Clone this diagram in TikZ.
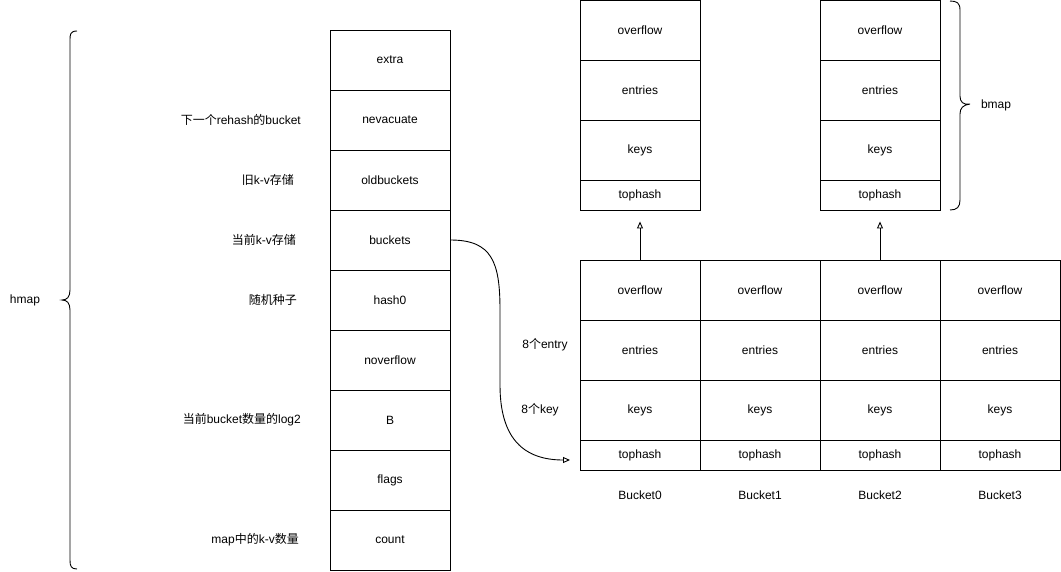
\documentclass[tikz,border=0pt]{standalone}
\usepackage{fontspec}
\setmainfont{Liberation Sans}
\newfontfamily\cjk{Noto Sans CJK SC}
\usetikzlibrary{arrows.meta,decorations.pathreplacing}
\begin{document}
\begin{tikzpicture}[x=1pt,y=-1pt,
  cell/.style={draw=black,line width=0.9pt,minimum width=120pt,minimum height=60pt,inner sep=0pt,font=\fontsize{12}{14}\selectfont},
  thin/.style={cell,minimum height=30pt},
  lbl/.style={font=\fontsize{12}{14}\selectfont,inner sep=0pt},
  arr/.style={line width=0.9pt,-{Triangle[open,length=7pt,width=6pt]}},
  brc/.style={line width=0.9pt}]
\useasboundingbox (0,0) rectangle (1061,571);
% hmap struct
\foreach \n/\t [count=\i from 0] in {extra/extra,nev/nevacuate,old/oldbuckets,bkt/buckets,hash/hash0,novf/noverflow,B/B,flags/flags,count/count}{
  \node[cell] (\n) at (390,{60+60*\i}) {\t};
}
% left labels (right aligned at x=300)
\node[lbl,anchor=east] (l1) at (301,120) {{\cjk 下一个}rehash{\cjk 的}bucket};
\node[lbl,anchor=east] (l2) at (294,180) {{\cjk 旧}k-v{\cjk 存储}};
\node[lbl,anchor=east] (l3) at (296,240) {{\cjk 当前}k-v{\cjk 存储}};
\node[lbl,anchor=east] (l4) at (297,300) {{\cjk 随机种子}};
\node[lbl,anchor=east] (l5) at (301,420) {{\cjk 当前}bucket{\cjk 数量的}log2};
\node[lbl,anchor=east] (l6) at (299,540) {map{\cjk 中的}k-v{\cjk 数量}};
% hmap brace
\draw[brc] (77,31) .. controls (70,31) and (70,35) .. (70,40) -- (70,290) .. controls (70,297) and (67,300) .. (62,300)
  .. controls (67,300) and (70,303) .. (70,310) -- (70,560) .. controls (70,566) and (71,569) .. (77,569);
\node[lbl] (hmap) at (25,300) {hmap};
% buckets
\foreach \k in {0,1,2,3}{
  \node[cell] (ov\k) at ({640+120*\k},290) {overflow};
  \node[cell] (en\k) at ({640+120*\k},350) {entries};
  \node[cell] (ke\k) at ({640+120*\k},410) {keys};
  \node[thin] (th\k) at ({640+120*\k},455) {tophash};
  \node[lbl] (bl\k) at ({640+120*\k},495) {Bucket\k};
}
% overflow buckets
\foreach \k/\x in {a/640,b/880}{
  \node[cell] (tov\k) at (\x,30) {overflow};
  \node[cell] (ten\k) at (\x,90) {entries};
  \node[cell] (tke\k) at (\x,150) {keys};
  \node[thin] (tth\k) at (\x,195) {tophash};
}
\draw[arr] (ov0.north) -- ([yshift=-11pt]ttha.south);
\draw[arr] (ov2.north) -- ([yshift=-11pt]tthb.south);
% bmap brace
\draw[brc] (950,1) .. controls (957,1) and (960,3) .. (960,10) -- (960,96) .. controls (960,102) and (963,105) .. (970,104)
  .. controls (963,105) and (960,108) .. (960,114) -- (960,200) .. controls (960,207) and (957,210) .. (950,210);
\node[lbl] (bmap) at (996,105) {bmap};
% curved arrow
\coordinate (cend) at (570,460);
\draw[arr] (bkt.east) .. controls (492,240) and (500,262) .. (500,310) -- (500,385)
  .. controls (500,440) and (525,460) .. (cend);
\node[lbl] (e8) at (545,345) {8{\cjk 个}entry};
\node[lbl] (k8) at (540,410) {8{\cjk 个}key};
\end{tikzpicture}
\end{document}
